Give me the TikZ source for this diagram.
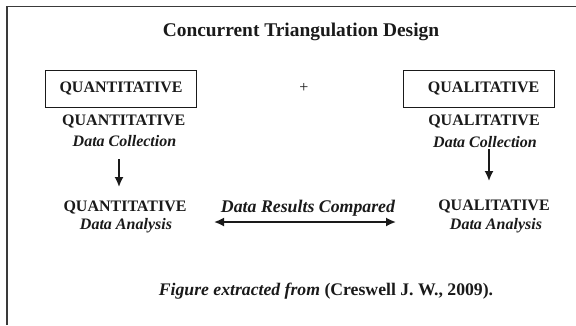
\documentclass[tikz,border=0pt]{standalone}
\usepackage{fontspec}
\setmainfont{Liberation Serif}
\usetikzlibrary{arrows.meta}
\definecolor{ink}{HTML}{1A1A1A}
\definecolor{framec}{HTML}{3A3A3A}
\tikzset{
  body/.style={font=\fontsize{16}{19}\selectfont\bfseries, text=ink, inner sep=0pt, anchor=base},
  bodyit/.style={font=\fontsize{16}{19}\selectfont\bfseries\itshape, text=ink, inner sep=0pt, anchor=base},
  labbox/.style={draw=ink, line width=1pt, minimum width=151pt, minimum height=37pt, inner sep=0pt,
    font=\fontsize{16}{19}\selectfont\bfseries, text=ink},
  arr/.style={draw=ink, line width=1.7pt, -{Latex[length=10pt,width=9pt]}},
  darr/.style={draw=ink, line width=1.7pt, {Latex[length=10pt,width=9pt]}-{Latex[length=10pt,width=9pt]}}
}
\begin{document}
\begin{tikzpicture}[x=1pt,y=-1pt]
\useasboundingbox (0,0) rectangle (576,325);
% frame
\draw[framec, line width=1.8pt] (7,325) -- (7,6.5) -- (576,6.5);
% title
\node[body, font=\fontsize{19.4}{22}\selectfont\bfseries] (title) at (301,36) {Concurrent Triangulation Design};
% boxes
\node[labbox] (qnbox) at (121,88.5) {QUANTITATIVE};
\node[labbox, minimum width=150.6pt] (qlbox) at (478.7,88.5) {\hspace{10pt}QUALITATIVE};
\node[font=\fontsize{16}{19}\selectfont, text=ink, inner sep=0pt] (plus) at (304,88) {+};
% left column
\node[body] (qn1) at (123.7,125) {QUANTITATIVE};
\node[bodyit] (qndc) at (124.5,146.5) {Data Collection};
\node[body] (qn2) at (125,211.5) {QUANTITATIVE};
\node[bodyit] (qnda) at (126,229) {Data Analysis};
% right column
\node[body] (ql1) at (484,125.5) {QUALITATIVE};
\node[bodyit] (qldc) at (485,147) {Data Collection};
\node[body] (ql2) at (494,210) {QUALITATIVE};
\node[bodyit] (qlda) at (496,229) {Data Analysis};
% compare
\node[bodyit, font=\fontsize{17.8}{20}\selectfont\bfseries\itshape] (cmp) at (308,212) {Data Results Compared};
% arrows
\coordinate (la) at (119,159);
\coordinate (lb) at (119,187);
\coordinate (ra) at (489,149);
\coordinate (rb) at (489,181);
\coordinate (ca) at (214,222);
\coordinate (cb) at (396,222);
\draw[arr] (la) -- (lb);
\draw[arr] (ra) -- (rb);
\draw[darr] (ca) -- (cb);
% footer
\node[body, font=\fontsize{17.7}{20}\selectfont\bfseries] (foot) at (326,295) {\textit{Figure extracted from} (Creswell J. W., 2009).};
\end{tikzpicture}
\end{document}
